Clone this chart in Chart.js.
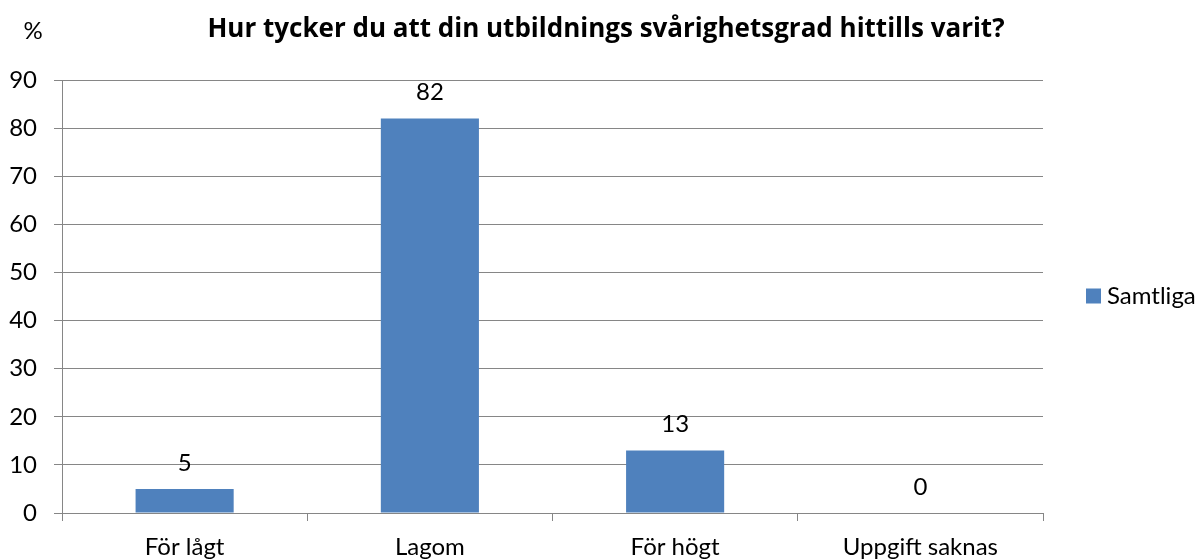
<!DOCTYPE html>
<html>
<head>
<meta charset="utf-8">
<script src="https://cdn.jsdelivr.net/npm/chart.js@4.4.1/dist/chart.umd.min.js"></script>
<style>
html,body{margin:0;padding:0;background:#fff;}
#wrap{width:1201px;height:560px;position:relative;}
</style>
</head>
<body>
<div id="wrap"><canvas id="c" width="1201" height="560"></canvas></div>
<script>
const titleText = "Hur tycker du att din utbildnings svårighetsgrad hittills varit?";
const unitLabel = "%";
const categories = ["För lågt", "Lagom", "För högt", "Uppgift saknas"];
const seriesName = "Samtliga";
const seriesValues = [5, 82, 13, 0];
const yTicks = [0, 10, 20, 30, 40, 50, 60, 70, 80, 90];

const FONT = "Lato, 'Open Sans', sans-serif";
const TFONT = "'Open Sans', Lato, sans-serif";
const BAR = "#4F81BD";
const GRID = "#868686";

const extras = {
  id: "extras",
  afterDatasetsDraw(chart) {
    const ctx = chart.ctx;
    const meta = chart.getDatasetMeta(0);
    ctx.save();
    ctx.fillStyle = "#000";
    ctx.textBaseline = "middle";
    // title
    ctx.font = "bold 26px " + TFONT;
    ctx.textAlign = "center";
    ctx.fillText(titleText, 606, 30);
    ctx.font = "24px " + FONT;
    meta.data.forEach((bar, i) => {
      ctx.fillText(String(chart.data.datasets[0].data[i]), bar.x, bar.y - 26);
    });
    // unit label
    ctx.fillText(unitLabel, 33, 31);
    // legend
    const ca = chart.chartArea;
    const lx = 1086, ly = ca.top + (ca.bottom - ca.top) / 2 - 8;
    ctx.fillStyle = BAR;
    ctx.fillRect(lx, ly, 15, 15);
    ctx.fillStyle = "#000";
    ctx.textAlign = "left";
    ctx.fillText(chart.data.datasets[0].label, lx + 21, ly + 8);
    ctx.restore();
  }
};

new Chart(document.getElementById("c"), {
  type: "bar",
  data: {
    labels: categories,
    datasets: [{
      label: seriesName,
      data: seriesValues,
      backgroundColor: BAR,
      borderWidth: 0,
      categoryPercentage: 0.4,
      barPercentage: 1.0
    }]
  },
  options: {
    responsive: false,
    animation: false,
    devicePixelRatio: 1,
    layout: { padding: { left: 0, right: 158, top: 80, bottom: 0 } },
    plugins: {
      legend: { display: false },
      tooltip: { enabled: false },
      title: { display: false }
    },
    scales: {
      x: {
        grid: { display: true, drawOnChartArea: false, drawTicks: true, tickLength: 8, color: GRID, offset: true },
        border: { display: true, color: GRID, width: 1 },
        ticks: { color: "#000", font: { family: FONT, size: 24 }, padding: 12, maxRotation: 0 },
        afterFit(s) { s.height = 47; }
      },
      y: {
        min: 0, max: 90,
        afterBuildTicks(s) { s.ticks = yTicks.map(v => ({ value: v })); },
        grid: { color: GRID, tickLength: 8, drawTicks: true },
        border: { display: true, color: GRID, width: 1 },
        ticks: { color: "#000", font: { family: FONT, size: 24 }, padding: 17 },
        afterFit(s) { s.width = 62; }
      }
    }
  },
  plugins: [extras]
});
</script>
</body>
</html>
